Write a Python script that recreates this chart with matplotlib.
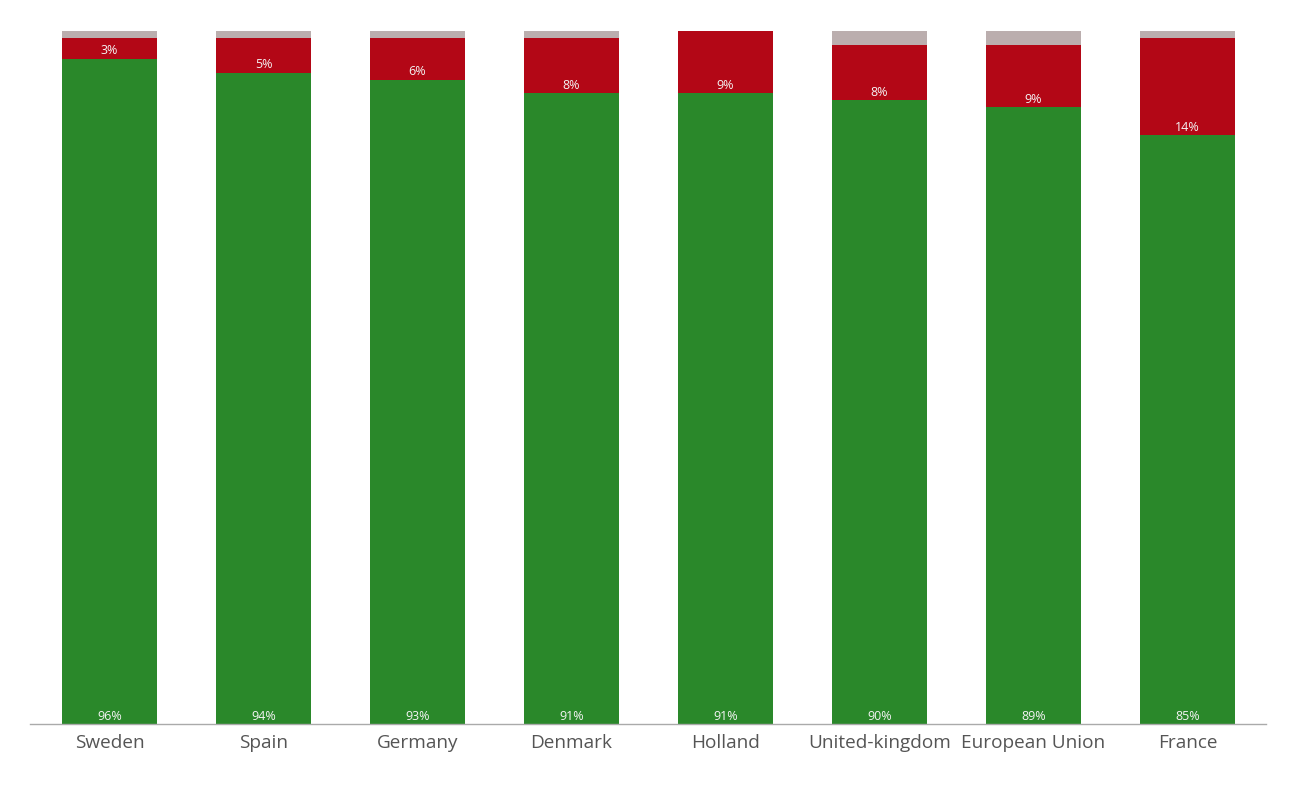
import matplotlib
matplotlib.use("Agg")
import matplotlib.pyplot as plt
import numpy as np

categories = ["Sweden", "Spain", "Germany", "Denmark", "Holland",
              "United-kingdom", "European Union", "France"]
green_vals = [96, 94, 93, 91, 91, 90, 89, 85]
red_vals = [3, 5, 6, 8, 9, 8, 9, 14]
grey_vals = [1, 1, 1, 1, 0, 2, 2, 1]

plt.rcParams['font.family'] = ['Open Sans', 'DejaVu Sans']

fig = plt.figure(figsize=(13.1, 7.87), dpi=100)
ax = fig.add_axes([30/1310, 63/787, 1236/1310, 693/787])

x = np.arange(len(categories))
w = 95/154
g = np.array(green_vals)
r = np.array(red_vals)
gr = np.array(grey_vals)

ax.bar(x, g, width=w, color="#2a882a", linewidth=0)
ax.bar(x, r, width=w, bottom=g, color="#b30716", linewidth=0)
ax.bar(x, gr, width=w, bottom=g + r, color="#bbaeae", linewidth=0)

for xi, gv, rv in zip(x, g, r):
    ax.annotate(f"{gv}%", (xi, 0), xytext=(0, 1), textcoords="offset points",
                ha="center", va="bottom", color="#f4f4f4", fontsize=9)
    ax.annotate(f"{rv}%", (xi, gv), xytext=(0, 1), textcoords="offset points",
                ha="center", va="bottom", color="#f4f4f4", fontsize=9)

ax.set_xlim(-79.5/154, len(categories) - 1 + 78.5/154)
ax.set_ylim(0, 100)
ax.set_xticks(x)
ax.set_xticklabels(categories, fontsize=13.7, color="#555555")
ax.tick_params(axis="x", length=0, pad=7.5)
ax.set_yticks([])
for s in ["top", "right", "left"]:
    ax.spines[s].set_visible(False)
ax.spines["bottom"].set_color("#aaaaaa")
ax.spines["bottom"].set_linewidth(1)

fig.savefig("out.png", dpi=100)
